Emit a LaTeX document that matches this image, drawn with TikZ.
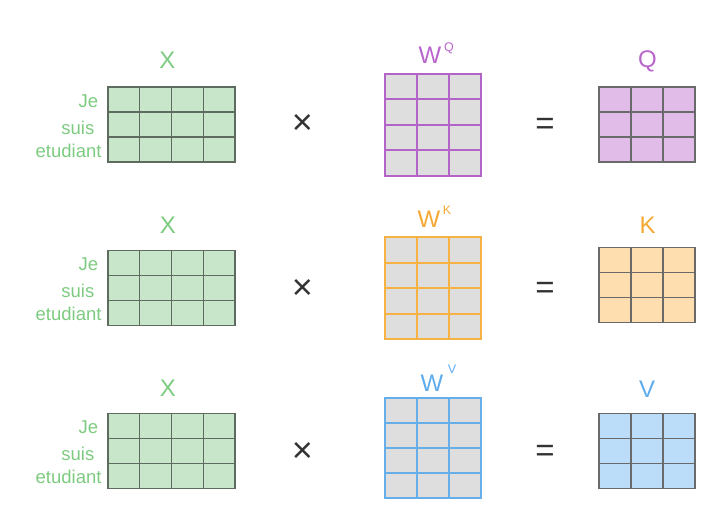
\documentclass[tikz,border=0pt]{standalone}
\usepackage{fontspec}
\setmainfont{Liberation Sans}
\definecolor{xgreen}{HTML}{7DCB80}
\definecolor{xfill}{HTML}{C8E6C9}
\definecolor{xline}{HTML}{5E6B5E}
\definecolor{wfill}{HTML}{DEDEDE}
\definecolor{qcol}{HTML}{B866CC}
\definecolor{qborder}{HTML}{B463C9}
\definecolor{qfill}{HTML}{E2BCE8}
\definecolor{kcol}{HTML}{F5A833}
\definecolor{kborder}{HTML}{F6B244}
\definecolor{kfill}{HTML}{FEDDAF}
\definecolor{vcol}{HTML}{5EACEC}
\definecolor{vborder}{HTML}{66AEEA}
\definecolor{vfill}{HTML}{BCDDFA}
\definecolor{gline}{HTML}{6A6A6A}
\definecolor{opgray}{HTML}{333333}
\newcommand\cellgrid[9]{%
  \pgfmathsetmacro\gxa{#1+#3*#5}%
  \pgfmathsetmacro\gya{#2+#4*#6}%
  \fill[#7] (#1,#2) rectangle (\gxa,\gya);
  \pgfmathtruncatemacro\gnc{#3-1}%
  \pgfmathtruncatemacro\gnr{#4-1}%
  \foreach \i in {1,...,\gnc} \draw[#8,line width=#9] ({#1+\i*#5},#2) -- ({#1+\i*#5},\gya);
  \foreach \j in {1,...,\gnr} \draw[#8,line width=#9] (#1,{#2+\j*#6}) -- (\gxa,{#2+\j*#6});
  \draw[#8,line width=#9] (#1,#2) rectangle (\gxa,\gya);
}
\begin{document}
\begin{tikzpicture}[x=1pt,y=-1pt,
  lbl/.style={inner sep=0pt, anchor=base, font=\fontsize{24}{24}\selectfont},
  suplbl/.style={inner sep=0pt, anchor=base west, font=\fontsize{12.5}{12.5}\selectfont},
  word/.style={inner sep=0pt, anchor=base east, text=xgreen, font=\fontsize{18.5}{18.5}\selectfont},
  timesop/.style={inner sep=0pt, text=opgray, font=\fontsize{36}{36}\selectfont},
  eqop/.style={inner sep=0pt, text=opgray, font=\fontsize{33}{33}\selectfont}]
\useasboundingbox (0,0) rectangle (720,525);
% ---------- row 1 ----------
\cellgrid{108}{87}{4}{3}{31.75}{25}{xfill}{xline}{1.3pt}
\cellgrid{385}{73.5}{3}{4}{32}{25.5}{wfill}{qborder}{2pt}
\cellgrid{599}{87}{3}{3}{32}{25}{qfill}{gline}{1.3pt}
\node[lbl, text=xgreen] (x1) at (167.5,68) {X};
\node[word] (je1) at (98.3,107) {Je};
\node[word] (suis1) at (94.5,134) {suis};
\node[word] (etu1) at (101.7,157) {etudiant};
\node[lbl, text=qcol] (w1) at (430,63.5) {W};
\node[suplbl, text=qcol] (wq) at (444,51.5) {Q};
\node[lbl, text=qcol] (q1) at (647.5,67.5) {Q};
\node[timesop] (t1) at (302.5,124.5) {×};
\node[eqop] (e1) at (545,126) {=};
% ---------- row 2 ----------
\cellgrid{108}{250.5}{4}{3}{31.75}{25}{xfill}{xline}{1.3pt}
\cellgrid{385}{237}{3}{4}{32}{25.5}{wfill}{kborder}{2pt}
\cellgrid{599}{247.5}{3}{3}{32}{25}{kfill}{gline}{1.3pt}
\node[lbl, text=xgreen] (x2) at (168,233.3) {X};
\node[word] (je2) at (98.3,270.5) {Je};
\node[word] (suis2) at (94.5,297) {suis};
\node[word] (etu2) at (101.7,320.5) {etudiant};
\node[lbl, text=kcol] (w2) at (429,227.3) {W};
\node[suplbl, text=kcol] (wk) at (442.7,214.5) {K};
\node[lbl, text=kcol] (k2) at (647.5,233) {K};
\node[timesop] (t2) at (302.5,289) {×};
\node[eqop] (e2) at (545,290) {=};
% ---------- row 3 ----------
\cellgrid{108}{413.5}{4}{3}{31.75}{25}{xfill}{xline}{1.3pt}
\cellgrid{385}{397.5}{3}{4}{32}{25}{wfill}{vborder}{2pt}
\cellgrid{599}{413.5}{3}{3}{32}{25}{vfill}{gline}{1.3pt}
\node[lbl, text=xgreen] (x3) at (168,396.5) {X};
\node[word] (je3) at (98.3,433.5) {Je};
\node[word] (suis3) at (94.5,460) {suis};
\node[word] (etu3) at (101.7,483.5) {etudiant};
\node[lbl, text=vcol] (w3) at (432,391) {W};
\node[suplbl, text=vcol] (wv) at (447.7,373.5) {V};
\node[lbl, text=vcol] (v3) at (647,397) {V};
\node[timesop] (t3) at (302.5,452) {×};
\node[eqop] (e3) at (545,453) {=};
\end{tikzpicture}
\end{document}
